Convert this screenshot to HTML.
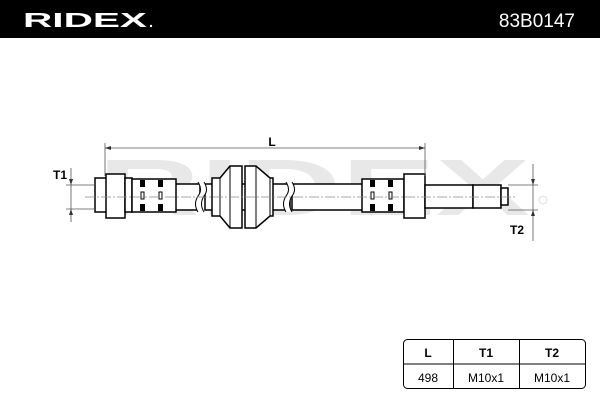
<!DOCTYPE html>
<html><head><style>
body{margin:0;width:600px;height:400px;background:#fff;overflow:hidden;font-family:"Liberation Sans",sans-serif}
</style></head><body>
<svg width="600" height="400" xmlns="http://www.w3.org/2000/svg" font-family="Liberation Sans, sans-serif">
<rect x="0" y="0" width="600" height="38" fill="#000"/>
<text x="23" y="27" fill="#fff" font-size="20" font-weight="bold" textLength="124" lengthAdjust="spacingAndGlyphs">RIDEX</text>
<circle cx="151" cy="26" r="1.2" fill="#fff"/>
<text x="575" y="27" fill="#fff" font-size="19" text-anchor="end">83B0147</text>
<!-- watermark -->
<text x="98" y="215" fill="#e8e8e8" font-size="80" font-weight="bold" textLength="432" lengthAdjust="spacingAndGlyphs">RIDEX</text>
<circle cx="543" cy="200" r="4" fill="none" stroke="#ddd" stroke-width="1"/>
<g fill="#fff" stroke="#000" stroke-width="1.5">
<rect x="170" y="184" width="30" height="26"/>
<rect x="205" y="184" width="85" height="26"/>
<rect x="292" y="184" width="75" height="26"/>
<rect x="95" y="178" width="14" height="34"/>
<rect x="106" y="174" width="19" height="44"/>
<rect x="125" y="178" width="7" height="34"/>
<rect x="132" y="179" width="44" height="33"/>
<polygon points="212,178 220,178 230,166 242,166 242,228 230,228 220,216 212,216"/>
<polygon points="245,166 256,166 270,178 273,178 273,216 270,216 256,228 245,228"/>
<rect x="362" y="179" width="42" height="33"/>
<rect x="404" y="174" width="21" height="44"/>
<rect x="425" y="185" width="48" height="23"/>
<rect x="473" y="185" width="28" height="23"/>
<rect x="501" y="188" width="7" height="17"/>
</g>
<g fill="none" stroke="#000" stroke-width="1">
<line x1="220" y1="178" x2="220" y2="216"/><line x1="230" y1="166" x2="230" y2="228"/>
<line x1="256" y1="166" x2="256" y2="228"/><line x1="270" y1="178" x2="270" y2="216"/>
</g>
<g fill="#000">
<rect x="140" y="180" width="5" height="7"/><rect x="158" y="180" width="5" height="7"/>
<rect x="140" y="204" width="5" height="7"/><rect x="158" y="204" width="5" height="7"/>
<rect x="370" y="180" width="5" height="7"/><rect x="388" y="180" width="5" height="7"/>
<rect x="370" y="204" width="5" height="7"/><rect x="388" y="204" width="5" height="7"/>
</g>
<g fill="none" stroke="#000" stroke-width="1">
<rect x="141" y="192" width="3" height="7"/><rect x="159" y="192" width="3" height="7"/>
<rect x="371" y="192" width="3" height="7"/><rect x="389" y="192" width="3" height="7"/>
</g>
<path d="M198,182 q5,8 0,14 q-5,8 0,16 L204,212 q-5,-8 0,-16 q5,-6 0,-14z" fill="#fff"/>
<path d="M286,182 q5,8 0,14 q-5,8 0,16 L292,212 q-5,-8 0,-16 q5,-6 0,-14z" fill="#fff"/>
<g fill="none" stroke="#000" stroke-width="1">
<path d="M198,182 q5,8 0,14 q-5,8 0,16 M204,182 q5,8 0,14 q-5,8 0,16"/>
<path d="M286,182 q5,8 0,14 q-5,8 0,16 M292,182 q5,8 0,14 q-5,8 0,16"/>
</g>
<line x1="85" y1="197" x2="515" y2="197" stroke="#888" stroke-width="0.8" stroke-dasharray="10,2,2,2"/>
<g stroke="#555" stroke-width="0.8" fill="none">
<line x1="105" y1="148" x2="425" y2="148"/>
<line x1="105" y1="143" x2="105" y2="176"/>
<line x1="425" y1="143" x2="425" y2="176"/>
<line x1="66" y1="185" x2="95" y2="185"/><line x1="66" y1="209" x2="95" y2="209"/>
<line x1="71" y1="168" x2="71" y2="222"/>
<line x1="508" y1="185" x2="538" y2="185"/><line x1="508" y1="210" x2="538" y2="210"/>
<line x1="533" y1="164" x2="533" y2="241"/>
</g>
<g fill="#333">
<polygon points="105,148 111,146 111,150"/><polygon points="425,148 419,146 419,150"/>
<polygon points="71,185 69,179 73,179"/><polygon points="71,209 69,215 73,215"/>
<polygon points="533,185 531,179 535,179"/><polygon points="533,210 531,216 535,216"/>
</g>
<text x="272" y="146" font-size="12" font-weight="bold" text-anchor="middle">L</text>
<text x="60" y="179" font-size="12" font-weight="bold" text-anchor="middle">T1</text>
<text x="517" y="234" font-size="12" font-weight="bold" text-anchor="middle">T2</text>
<rect x="403.5" y="339.5" width="182" height="49" rx="4" fill="none" stroke="#000" stroke-width="1"/>
<line x1="403" y1="364" x2="586" y2="364" stroke="#000"/>
<line x1="453.5" y1="339" x2="453.5" y2="389" stroke="#000"/>
<line x1="519.5" y1="339" x2="519.5" y2="389" stroke="#000"/>
<g font-size="12" text-anchor="middle">
<text x="428" y="357" font-weight="bold">L</text>
<text x="486" y="357" font-weight="bold">T1</text>
<text x="552" y="357" font-weight="bold">T2</text>
<text x="428" y="382">498</text>
<text x="486" y="382">M10x1</text>
<text x="552" y="382">M10x1</text>
</g>
</svg>
</body></html>
